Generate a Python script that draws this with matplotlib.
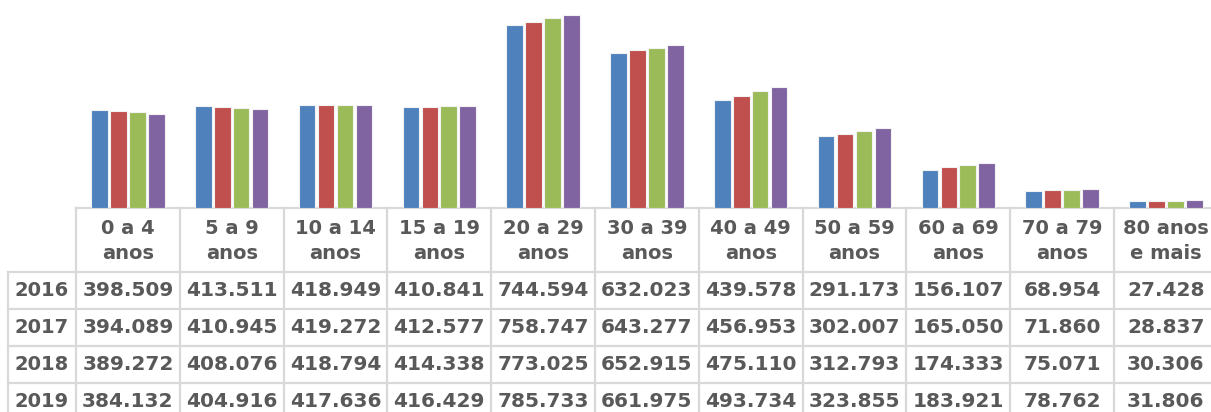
import matplotlib.pyplot as plt
import numpy as np

categories = ["0 a 4\nanos", "5 a 9\nanos", "10 a 14\nanos", "15 a 19\nanos",
              "20 a 29\nanos", "30 a 39\nanos", "40 a 49\nanos", "50 a 59\nanos",
              "60 a 69\nanos", "70 a 79\nanos", "80 anos\ne mais"]
years = ["2016", "2017", "2018", "2019"]

pop_2016 = [398.509, 413.511, 418.949, 410.841, 744.594, 632.023, 439.578, 291.173, 156.107, 68.954, 27.428]
pop_2017 = [394.089, 410.945, 419.272, 412.577, 758.747, 643.277, 456.953, 302.007, 165.050, 71.860, 28.837]
pop_2018 = [389.272, 408.076, 418.794, 414.338, 773.025, 652.915, 475.110, 312.793, 174.333, 75.071, 30.306]
pop_2019 = [384.132, 404.916, 417.636, 416.429, 785.733, 661.975, 493.734, 323.855, 183.921, 78.762, 31.806]
series = [pop_2016, pop_2017, pop_2018, pop_2019]

colors = ["#4F81BD", "#C0504D", "#9BBB59", "#8064A2"]
txt_color = "#595959"
grid_color = "#D9D9D9"

W, H = 1211, 412
fig = plt.figure(figsize=(W / 100, H / 100), dpi=100)

# table geometry in pixels
x0 = 76          # left edge of first category column
cw = 103.8       # column width
y_base = 208     # baseline / top of table
row_h = 37
y_head = 272
lab_x = 8

n = len(categories)

# bar chart sitting above the table
ax = fig.add_axes([x0 / W, (H - y_base) / H, n * cw / W, y_base / H])
x = np.arange(n)
step = 0.182
for i, vals in enumerate(series):
    ax.bar(x + (i - 1.5) * step, vals, width=0.16, color=colors[i],
           edgecolor="#F2F2F2", linewidth=0.8, zorder=3)
ax.set_xlim(-0.5, n - 0.5)
ax.set_ylim(0, 847)
ax.axis("off")

# data table drawn in pixel coordinates
tab = fig.add_axes([0, 0, 1, 1], zorder=-1)
tab.set_xlim(0, W)
tab.set_ylim(H, 0)
tab.axis("off")

right = x0 + n * cw
lw = 1.6
tab.plot([x0, right], [y_base, y_base], color=grid_color, lw=lw)
for r in range(len(years) + 1):
    y = y_head + r * row_h
    tab.plot([lab_x, right], [y, y], color=grid_color, lw=lw)
for c in range(n + 1):
    xc = x0 + c * cw
    tab.plot([xc, xc], [y_base, H + 20], color=grid_color, lw=lw)
tab.plot([lab_x, lab_x], [y_head, H + 20], color=grid_color, lw=lw)

font = dict(family="DejaVu Sans", fontweight="bold", color=txt_color)
for c, cat in enumerate(categories):
    tab.text(x0 + (c + 0.5) * cw, (y_base + y_head) / 2 + 1, cat,
             ha="center", va="center", linespacing=1.4, fontsize=14, **font)

for r, (yr, vals) in enumerate(zip(years, series)):
    yc = y_head + (r + 0.5) * row_h
    tab.text((lab_x + x0) / 2, yc, yr, ha="center", va="center",
             fontsize=14, **font)
    for c, v in enumerate(vals):
        tab.text(x0 + (c + 0.5) * cw, yc, f"{v:.3f}",
                 ha="center", va="center", fontsize=14.5, **font)

fig.savefig("out.png", dpi=100)
